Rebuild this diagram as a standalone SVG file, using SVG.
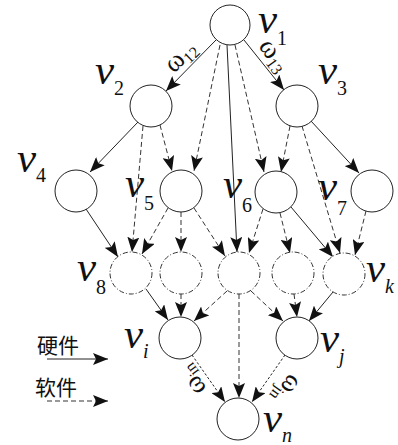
<svg xmlns="http://www.w3.org/2000/svg" width="398" height="445" viewBox="0 0 398 445">
  <style>
    .node { fill: #fff; stroke: #222; stroke-width: 1; }
    .soft-node { fill: #fff; stroke: #333; stroke-width: 1; stroke-dasharray: 5 2 1 2; }
    .hw { fill: none; stroke: #222; stroke-width: 1; marker-end: url(#arrow); }
    .sw { fill: none; stroke: #333; stroke-width: 1; stroke-dasharray: 5 3; marker-end: url(#arrow); }
    .wt { fill: none; stroke: #222; stroke-width: 1; stroke-dasharray: 2.5 2; marker-end: url(#arrow); }
    .lbl { font-family: "Liberation Serif", "Times New Roman", serif; font-style: italic; font-size: 43px; fill: #111; }
    .sub { font-size: 20px; font-style: normal; }
    .subi { font-size: 20px; font-style: italic; }
    .w { font-family: "Liberation Serif", "Times New Roman", serif; font-size: 27px; fill: #111; }
    .ws { font-size: 16px; }
    .cjk { font-family: "Liberation Serif", "Noto Sans CJK SC", serif; font-size: 21px; fill: #111; }
  </style>
  <defs>
    <marker id="arrow" markerUnits="userSpaceOnUse" markerWidth="16" markerHeight="12" refX="15" refY="6" orient="auto">
      <path d="M0,0 L15,6 L0,12 L3,6 z" fill="#111"/>
    </marker>
  </defs>

  <!-- connectors -->
  <g id="connectors">
    <line class="hw" x1="216" y1="40" x2="166" y2="91"/>
    <line class="hw" x1="244" y1="40" x2="284" y2="90"/>
    <line class="sw" x1="220" y1="45" x2="194" y2="171"/>
    <line class="hw" x1="227" y1="45" x2="237" y2="252"/>
    <line class="sw" x1="235" y1="45" x2="264" y2="172"/>
    <line class="hw" x1="138" y1="122" x2="90" y2="172"/>
    <line class="sw" x1="160" y1="125" x2="172" y2="171"/>
    <line class="sw" x1="143" y1="126" x2="132" y2="252"/>
    <line class="sw" x1="290" y1="126" x2="281" y2="172"/>
    <line class="hw" x1="311" y1="121" x2="359" y2="173"/>
    <line class="sw" x1="302" y1="126" x2="340" y2="253"/>
    <line class="hw" x1="86" y1="209" x2="118" y2="257"/>
    <line class="sw" x1="168" y1="208" x2="142" y2="254"/>
    <line class="sw" x1="181" y1="212" x2="181" y2="252"/>
    <line class="sw" x1="194" y1="208" x2="225" y2="256"/>
    <line class="sw" x1="263" y1="209" x2="249" y2="253"/>
    <line class="sw" x1="280" y1="213" x2="290" y2="253"/>
    <line class="hw" x1="291" y1="207" x2="333" y2="257"/>
    <line class="sw" x1="366" y1="211" x2="355" y2="255"/>
    <line class="hw" x1="146" y1="289" x2="168" y2="320"/>
    <line class="sw" x1="181" y1="294" x2="181" y2="317"/>
    <line class="sw" x1="227" y1="291" x2="194" y2="321"/>
    <line class="sw" x1="239" y1="294" x2="239" y2="398"/>
    <line class="sw" x1="251" y1="291" x2="283" y2="321"/>
    <line class="sw" x1="294" y1="294" x2="297" y2="317"/>
    <line class="hw" x1="333" y1="292" x2="309" y2="321"/>
    <line class="wt" x1="192" y1="355" x2="225" y2="402"/>
    <line class="wt" x1="285" y1="355" x2="252" y2="402"/>

    <!-- edge weights -->
    <text class="w" text-anchor="middle" transform="translate(186,62) rotate(-44)">ω<tspan class="ws" dy="4">12</tspan></text>
    <text class="w" text-anchor="middle" transform="translate(268,60) rotate(54)">ω<tspan class="ws" dy="4">13</tspan></text>
    <text class="w" text-anchor="middle" transform="translate(198,376) rotate(-126)">ω<tspan class="ws" dy="4">in</tspan></text>
    <text class="w" text-anchor="middle" transform="translate(281,385) rotate(126)">ω<tspan class="ws" dy="4">jn</tspan></text>
  </g>

  <!-- nodes -->
  <g id="v1"><circle class="node" cx="230" cy="25" r="20"/><text class="lbl" x="258" y="33">v<tspan class="sub" dy="12">1</tspan></text></g>
  <g id="v2"><circle class="node" cx="151" cy="106" r="21"/><text class="lbl" x="95" y="84">v<tspan class="sub" dy="11">2</tspan></text></g>
  <g id="v3"><circle class="node" cx="297" cy="106" r="21"/><text class="lbl" x="318" y="84">v<tspan class="sub" dy="11">3</tspan></text></g>
  <g id="v4"><circle class="node" cx="76" cy="191" r="21"/><text class="lbl" x="17" y="172">v<tspan class="sub" dy="10">4</tspan></text></g>
  <g id="v5"><circle class="node" cx="181" cy="191" r="21"/><text class="lbl" x="125" y="197">v<tspan class="sub" dy="13">5</tspan></text></g>
  <g id="v6"><circle class="node" cx="276" cy="192" r="21"/><text class="lbl" x="223" y="198">v<tspan class="sub" dy="14">6</tspan></text></g>
  <g id="v7"><circle class="node" cx="372" cy="191" r="21"/><text class="lbl" x="318" y="200">v<tspan class="sub" dy="15">7</tspan></text></g>
  <g id="v8"><circle class="soft-node" cx="131" cy="273" r="21"/><text class="lbl" x="77" y="281">v<tspan class="sub" dy="13">8</tspan></text></g>
  <g id="c2"><circle class="soft-node" cx="181" cy="273" r="21"/></g>
  <g id="c3"><circle class="soft-node" cx="239" cy="273" r="21"/></g>
  <g id="c4"><circle class="soft-node" cx="293" cy="273" r="21"/></g>
  <g id="vk"><circle class="soft-node" cx="344" cy="274" r="21"/><text class="lbl" x="366" y="282">v<tspan class="subi" dy="11">k</tspan></text></g>
  <g id="vi"><circle class="node" cx="180" cy="338" r="21"/><text class="lbl" x="124" y="348">v<tspan class="subi" dy="10">i</tspan></text></g>
  <g id="vj"><circle class="node" cx="297" cy="338" r="21"/><text class="lbl" x="320" y="352">v<tspan class="subi" dy="11">j</tspan></text></g>
  <g id="vn"><circle class="node" cx="238" cy="419" r="21"/><text class="lbl" x="263" y="432">v<tspan class="subi" dy="10">n</tspan></text></g>

  <!-- legend -->
  <g id="legend">
    <text class="cjk" x="37" y="353">硬件</text>
    <line class="hw" x1="47" y1="359" x2="108" y2="359"/>
    <text class="cjk" x="35" y="395">软件</text>
    <line class="sw" x1="47" y1="401" x2="108" y2="401"/>
  </g>
</svg>
